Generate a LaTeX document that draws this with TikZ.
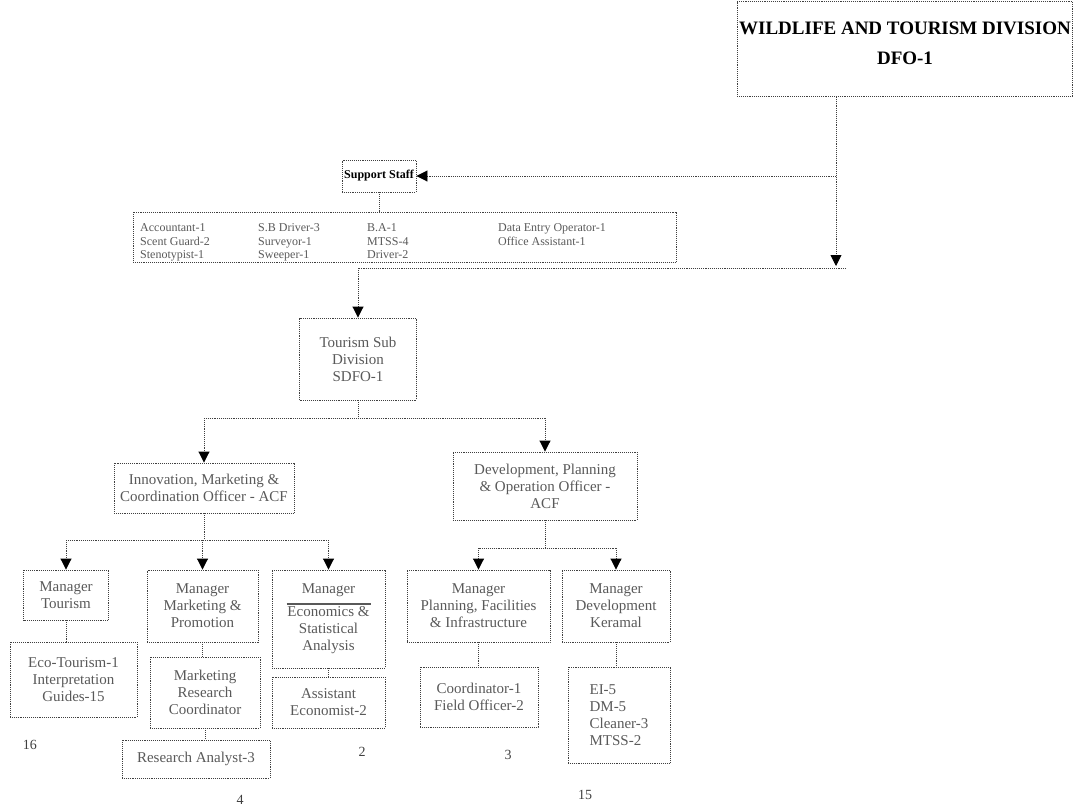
\documentclass[tikz,border=0pt]{standalone}
\usepackage{fontspec}
\setmainfont{Liberation Serif}
\usetikzlibrary{arrows.meta}
\tikzset{
  box/.style={draw=black!75, line width=0.9pt, densely dotted, inner sep=2pt, align=center,
    font=\fontsize{15}{17}\selectfont, text=black!65},
  conn/.style={draw=black!75, line width=0.9pt, densely dotted},
  arr/.style={conn, -{Triangle[length=11pt,width=11pt,color=black]}},
  stafftxt/.style={anchor=base west, inner sep=0pt, font=\fontsize{12}{14}\selectfont, text=black!65},
  lbl/.style={inner sep=0pt, font=\fontsize{14}{16}\selectfont, text=black!75}
}
\begin{document}
\begin{tikzpicture}[x=1pt,y=-1pt]
\useasboundingbox (0,0) rectangle (1074,809);
% top
\node[box, minimum width=334pt, minimum height=95pt, text=black,
  font=\fontsize{19}{30}\selectfont\bfseries, text depth=12pt] (top) at (905,49) {WILDLIFE AND TOURISM DIVISION\\DFO-1};
\node[box, minimum width=74pt, minimum height=32pt, text=black,
  font=\fontsize{12}{14}\selectfont\bfseries] (ss) at (379,176) {Support Staff};
\node[box, minimum width=543pt, minimum height=50pt] (staff) at (404.5,237) {};
\node[stafftxt] (s11) at (140,231) {Accountant-1};
\node[stafftxt] (s12) at (140,245) {Scent Guard-2};
\node[stafftxt] (s13) at (140,258) {Stenotypist-1};
\node[stafftxt] (s21) at (258,231) {S.B Driver-3};
\node[stafftxt] (s22) at (258,245) {Surveyor-1};
\node[stafftxt] (s23) at (258,258) {Sweeper-1};
\node[stafftxt] (s31) at (367,231) {B.A-1};
\node[stafftxt] (s32) at (367,245) {MTSS-4};
\node[stafftxt] (s33) at (367,258) {Driver-2};
\node[stafftxt] (s41) at (498,231) {Data Entry Operator-1};
\node[stafftxt] (s42) at (498,245) {Office Assistant-1};

\coordinate (j1) at (836,176);
\coordinate (j2) at (836,266);
\coordinate (b1r) at (846,268);
\coordinate (b1l) at (358,268);
\draw[arr] (top.south -| j1) -- (j2);
\draw[arr] (j1) -- (ss.east);
\draw[conn] (ss.south) -- (ss.south |- staff.north);

\node[box, minimum width=117pt, minimum height=82pt] (tsd) at (358,359) {Tourism Sub\\Division\\SDFO-1};
\draw[conn] (b1r) -- (b1l);
\draw[arr] (b1l) -- (tsd.north);

\node[box, minimum width=180pt, minimum height=50pt] (inn) at (204,488) {Innovation, Marketing \&\\Coordination Officer - ACF};
\node[box, minimum width=184pt, minimum height=68pt] (dev) at (545,486) {Development, Planning\\\& Operation Officer -\\ACF};
\coordinate (b2) at (358,418);
\draw[conn] (tsd.south) -- (b2);
\draw[conn] (inn.north |- b2) -- (dev.north |- b2);
\draw[arr] (inn.north |- b2) -- (inn.north);
\draw[arr] (dev.north |- b2) -- (dev.north);

\node[box, minimum width=85pt, minimum height=50pt] (mt) at (66,595) {Manager\\Tourism};
\node[box, minimum width=111pt, minimum height=72pt] (mm) at (202.5,606) {Manager\\Marketing \&\\Promotion};
\node[box, minimum width=113pt, minimum height=98pt] (me) at (328.5,619) {Manager\\[-6pt]\rule{84pt}{2.2pt}\\[-5pt]Economics \&\\Statistical\\Analysis};
\node[box, minimum width=143pt, minimum height=72pt] (mp) at (478.5,606) {Manager\\Planning, Facilities\\\& Infrastructure};
\node[box, minimum width=108pt, minimum height=72pt] (mk) at (616,606) {Manager\\Development\\Keramal};

\coordinate (b3) at (204,540);
\draw[conn] (inn.south) -- (b3);
\draw[conn] (mt.north |- b3) -- (me.north |- b3);
\draw[arr] (mt.north |- b3) -- (mt.north);
\draw[arr] (mm.north |- b3) -- (mm.north);
\draw[arr] (me.north |- b3) -- (me.north);
\coordinate (b4) at (545,548);
\draw[conn] (dev.south) -- (b4);
\draw[conn] (mp.north |- b4) -- (mk.north |- b4);
\draw[arr] (mp.north |- b4) -- (mp.north);
\draw[arr] (mk.north |- b4) -- (mk.north);

\node[box, minimum width=127pt, minimum height=75pt] (eco) at (73.5,679.5) {Eco-Tourism-1\\Interpretation\\Guides-15};
\node[box, minimum width=110pt, minimum height=71pt] (mr) at (205,692.5) {Marketing\\Research\\Coordinator};
\node[box, minimum width=148pt, minimum height=38pt] (ra) at (196,759) {Research Analyst-3};
\node[box, minimum width=113pt, minimum height=51pt] (ae) at (328.5,702.5) {Assistant\\Economist-2};
\node[box, minimum width=118pt, minimum height=60pt] (co) at (479,697) {Coordinator-1\\Field Officer-2};
\node[box, minimum width=102pt, minimum height=96pt, align=left] (ei) at (619,715) {EI-5\\DM-5\\Cleaner-3\\MTSS-2};

\draw[conn] (mt.south) -- (mt.south |- eco.north);
\draw[conn] (mm.south) -- (mm.south |- mr.north);
\draw[conn] (mr.south) -- (mr.south |- ra.north);
\draw[conn] (me.south) -- (me.south |- ae.north);
\draw[conn] (mp.south) -- (mp.south |- co.north);
\draw[conn] (mk.south) -- (mk.south |- ei.north);

\node[lbl] (l1) at (30,745) {16};
\node[lbl] (l2) at (240,800) {4};
\node[lbl] (l3) at (362,752) {2};
\node[lbl] (l4) at (508,755) {3};
\node[lbl] (l5) at (585,795) {15};
\end{tikzpicture}
\end{document}
